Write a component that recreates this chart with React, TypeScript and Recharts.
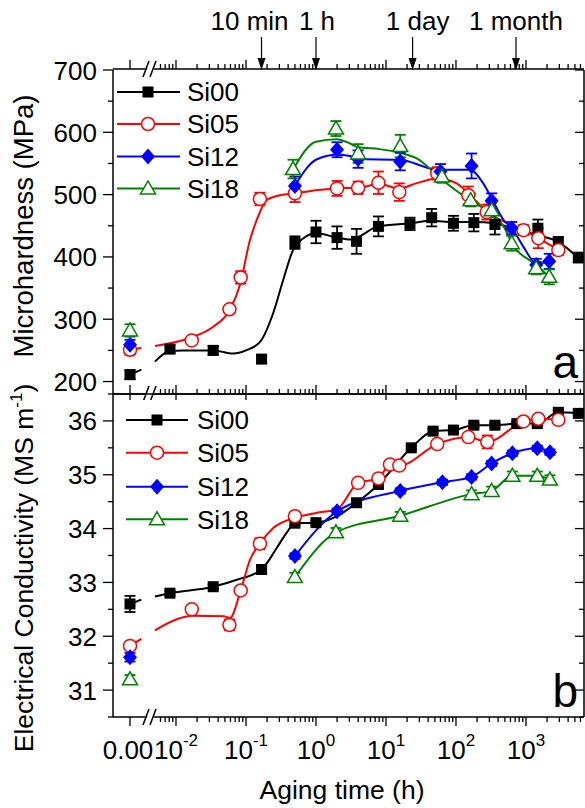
import React from 'react';
import { ComposedChart, Line, Scatter, XAxis, YAxis, ErrorBar, Legend } from 'recharts';

const FONT = '"Liberation Sans", Arial, Helvetica, sans-serif';

// ---------- series meta ----------
const SERIES_NAMES = ['Si00', 'Si05', 'Si12', 'Si18'];
const SERIES_COLORS = ['#000000', '#ff0000', '#0000ff', '#008000'];
const SERIES_MARKERS = ['square', 'circle', 'diamond', 'triangle'];

// ---------- (a) Microhardness (MPa): time (h), value, error ----------
const HV_SI00_T = [0, 0.0082, 0.034, 0.167, 0.5, 1, 2, 3.8, 7.8, 22, 45, 92, 180, 360, 1480, 2900, 5600];
const HV_SI00_V = [211, 252, 250, 236, 423, 440, 431, 425, 449, 453, 463, 454, 455, 452, 446, 424, 399];
const HV_SI00_E = [7, 6, 7, 6, 10, 18, 18, 20, 16, 10, 14, 12, 14, 16, 14, 8, 8];

const HV_SI05_T = [0, 0.0168, 0.058, 0.084, 0.158, 0.5, 2, 4, 7.8, 15.5, 54, 150, 275, 920, 1500, 2900];
const HV_SI05_V = [251, 266, 316, 367, 493, 502, 510, 511, 519, 504, 534, 499, 472, 443, 430, 411];
const HV_SI05_E = [8, 6, 6, 10, 10, 14, 12, 10, 18, 14, 10, 14, 12, 8, 16, 8];

const HV_SI12_T = [0, 0.5, 2, 4, 16, 60, 167, 323, 625, 1400, 2150];
const HV_SI12_V = [259, 514, 572, 557, 553, 537, 546, 490, 446, 387, 393];
const HV_SI12_E = [8, 15, 12, 14, 14, 12, 20, 12, 10, 10, 12];

const HV_SI18_T = [0, 0.47, 1.93, 4, 16, 63, 162, 323, 625, 1400, 2150];
const HV_SI18_V = [282, 541, 606, 566, 578, 529, 491, 475, 422, 382, 368];
const HV_SI18_E = [10, 15, 12, 15, 18, 10, 10, 12, 12, 10, 12];

// fitted guide lines (h, MPa); null = axis break gap
const HV_FIT_SI00 = [[0, 211], [0.0032, 219], [0.0044, null], [0.005, 232], [0.0082, 249], [0.0126, 250], [0.034, 250], [0.066, 245], [0.1, 250], [0.16, 264], [0.245, 310], [0.34, 363], [0.47, 411], [0.66, 430], [1, 438], [2, 431], [3.1, 428], [7.8, 449], [22, 454], [45, 458], [92, 456], [180, 456], [360, 454], [630, 446], [1480, 435], [2900, 424], [5600, 398]];
const HV_FIT_SI05 = [[0, 251], [0.0032, 254], [0.0044, null], [0.005, 257], [0.0168, 271], [0.034, 288], [0.058, 314], [0.082, 355], [0.114, 427], [0.142, 459], [0.197, 491], [0.306, 499], [0.5, 502], [1, 507], [2, 510], [4, 511], [8, 517], [15.5, 510], [27, 518], [54, 526], [102, 518], [150, 502], [275, 473], [920, 443], [1500, 430], [2900, 411]];
const HV_FIT_SI12 = [[0.5, 514], [1, 556], [2, 564], [3.06, 562], [4, 557], [16, 556], [43, 542], [63, 540], [158, 540], [245, 518], [323, 494], [480, 459], [630, 446], [910, 417], [1400, 390], [2100, 392]];
const HV_FIT_SI18 = [[0.47, 540], [1, 585], [2, 589], [3.06, 582], [4, 576], [8.1, 573], [16, 567], [27.5, 558], [63, 524], [158, 491], [323, 469], [480, 449], [630, 422], [1400, 387], [2150, 368]];

// ---------- (b) Electrical conductivity (MS/m) ----------
const EC_SI00_T = [0, 0.0082, 0.034, 0.167, 0.5, 1, 3.8, 7.8, 23, 47, 92, 180, 360, 740, 1450, 2900, 5600];
const EC_SI00_V = [32.6, 32.8, 32.92, 33.24, 34.1, 34.11, 34.48, 34.82, 35.5, 35.81, 35.83, 35.92, 35.92, 35.95, 35.95, 36.16, 36.14];
const EC_SI00_E = [0.15, 0.04, 0.04, 0.06, 0.04, 0.04, 0.04, 0.04, 0.04, 0.04, 0.04, 0.04, 0.04, 0.04, 0.04, 0.04, 0.04];

const EC_SI05_T = [0, 0.0168, 0.058, 0.084, 0.158, 0.5, 4, 7.8, 11.4, 15.5, 54, 150, 280, 920, 1500, 2900];
const EC_SI05_V = [31.82, 32.5, 32.21, 32.85, 33.72, 34.23, 34.85, 34.93, 35.19, 35.17, 35.57, 35.7, 35.61, 35.99, 36.04, 36.02];
const EC_SI05_E = [0.05, 0.06, 0.1, 0.06, 0.1, 0.06, 0.06, 0.06, 0.06, 0.05, 0.06, 0.06, 0.12, 0.06, 0.06, 0.06];

const EC_SI12_T = [0, 0.5, 2, 16, 64, 167, 323, 640, 1450, 2200];
const EC_SI12_V = [31.61, 33.49, 34.32, 34.7, 34.86, 34.96, 35.21, 35.4, 35.49, 35.42];
const EC_SI12_E = [0.08, 0.05, 0.05, 0.05, 0.05, 0.05, 0.05, 0.05, 0.05, 0.05];

const EC_SI18_T = [0, 0.5, 1.93, 16, 167, 323, 640, 1450, 2200];
const EC_SI18_V = [31.2, 33.1, 33.93, 34.24, 34.64, 34.7, 34.98, 34.98, 34.91];
const EC_SI18_E = [0.08, 0.08, 0.08, 0.07, 0.07, 0.08, 0.08, 0.08, 0.08];

const EC_FIT_SI00 = [[0, 32.6], [0.0032, 32.68], [0.0044, null], [0.005, 32.74], [0.0082, 32.8], [0.034, 32.92], [0.074, 33.05], [0.167, 33.24], [0.275, 33.64], [0.38, 33.92], [0.5, 34.1], [1, 34.11], [2, 34.23], [3.8, 34.48], [7.8, 34.82], [23, 35.5], [47, 35.81], [92, 35.83], [180, 35.92], [360, 35.92], [740, 35.95], [1450, 35.95], [2900, 36.16], [5600, 36.14]];
const EC_FIT_SI05 = [[0, 31.82], [0.0032, 31.95], [0.0044, null], [0.005, 32.11], [0.011, 32.33], [0.0168, 32.38], [0.048, 32.37], [0.059, 32.34], [0.084, 32.85], [0.114, 33.42], [0.158, 33.72], [0.245, 34.01], [0.5, 34.2], [1, 34.29], [2, 34.36], [4, 34.85], [7.8, 34.93], [11.4, 35.19], [15.5, 35.17], [54, 35.57], [150, 35.7], [280, 35.61], [920, 35.99], [1500, 36.04], [2900, 36.02]];
const EC_FIT_SI12 = [[0.5, 33.49], [2, 34.32], [16, 34.7], [64, 34.86], [167, 34.96], [323, 35.21], [640, 35.4], [1450, 35.49], [2200, 35.42]];
const EC_FIT_SI18 = [[0.5, 33.1], [1.93, 33.93], [16, 34.24], [167, 34.64], [323, 34.7], [640, 34.98], [1450, 34.98], [2200, 34.91]];

// ---------- annotations on top axis ----------
const ANNOT_LABELS = ['10 min', '1 h', '1 day', '1 month'];
const ANNOT_HOURS = [1 / 6, 1, 24, 720];
const ANNOT_DX = [-12, 1, 5, 0];

// ---------- axis structure (log10 hours; 0 h drawn left of a break) ----------
const ZERO_LX = -2.657;
const BREAK_LX = -2.357;
const X_DOMAIN = [-2.9, 3.829];
const X_DECADES = [-2, -1, 0, 1, 2, 3];
const X_MINORS: number[] = [];
for (let n = -3; n <= 3; n++) {
  for (let k = 2; k <= 9; k++) {
    const v = n + Math.log10(k);
    if (v > -2.27 && v < X_DOMAIN[1]) X_MINORS.push(v);
  }
}
const X_TICKS = [ZERO_LX, BREAK_LX, ...X_DECADES, ...X_MINORS];
const HV_TICKS = [200, 250, 300, 350, 400, 450, 500, 550, 600, 650, 700];
const EC_TICKS = [30.5, 31, 31.5, 32, 32.5, 33, 33.5, 34, 34.5, 35, 35.5, 36, 36.5];

const lxOf = (t: number) => (t === 0 ? ZERO_LX : Math.log10(t));
const pts = (t: number[], v: number[], e: number[]) => t.map((ti, i) => ({ lx: lxOf(ti), v: v[i], e: e[i] }));
const fit = (pairs: any[]) => pairs.map(([t, v]) => ({ lx: lxOf(t), v }));

const HV_POINTS = [pts(HV_SI00_T, HV_SI00_V, HV_SI00_E), pts(HV_SI05_T, HV_SI05_V, HV_SI05_E), pts(HV_SI12_T, HV_SI12_V, HV_SI12_E), pts(HV_SI18_T, HV_SI18_V, HV_SI18_E)];
const HV_FITS = [fit(HV_FIT_SI00), fit(HV_FIT_SI05), fit(HV_FIT_SI12), fit(HV_FIT_SI18)];
const EC_POINTS = [pts(EC_SI00_T, EC_SI00_V, EC_SI00_E), pts(EC_SI05_T, EC_SI05_V, EC_SI05_E), pts(EC_SI12_T, EC_SI12_V, EC_SI12_E), pts(EC_SI18_T, EC_SI18_V, EC_SI18_E)];
const EC_FITS = [fit(EC_FIT_SI00), fit(EC_FIT_SI05), fit(EC_FIT_SI12), fit(EC_FIT_SI18)];

// ---------- drawing helpers ----------
const Marker = ({ kind, cx, cy, color }: any) => {
  if (cx == null || cy == null) return <g />;
  switch (kind) {
    case 'square':
      return <rect x={cx - 5.5} y={cy - 5.5} width={11} height={11} fill={color} />;
    case 'circle':
      return <circle cx={cx} cy={cy} r={6.5} fill="#fff" stroke={color} strokeWidth={1.5} />;
    case 'diamond':
      return <polygon points={`${cx},${cy - 8} ${cx + 7},${cy} ${cx},${cy + 8} ${cx - 7},${cy}`} fill={color} />;
    default:
      return <polygon points={`${cx},${cy - 7.5} ${cx + 7.5},${cy + 5.5} ${cx - 7.5},${cy + 5.5}`} fill="#fff" stroke={color} strokeWidth={1.5} />;
  }
};

const breakMark = (x: number, y: number) => (
  <g>
    <polygon points={`${x - 5},${y + 3} ${x + 2},${y + 3} ${x + 4},${y - 3} ${x - 3},${y - 3}`} fill="#fff" />
    <line x1={x - 8} y1={y + 8} x2={x - 2} y2={y - 8} stroke="#000" strokeWidth={1.5} />
    <line x1={x - 1} y1={y + 8} x2={x + 5} y2={y - 8} stroke="#000" strokeWidth={1.5} />
  </g>
);

const kindOf = (v: number) => {
  if (v === ZERO_LX) return 'zero';
  if (v === BREAK_LX) return 'break';
  if (Number.isInteger(v)) return 'major';
  return 'minor';
};

// mode: 'top' (ticks up, break), 'midA' (majors down, break), 'midB' (ticks up), 'bottom' (ticks down, labels, break)
const makeXTick = (mode: string) => (p: any) => {
  const { x, y, payload } = p;
  const kind = kindOf(payload.value);
  if (kind === 'break') return mode === 'midB' ? <g /> : breakMark(x, y);
  if (mode === 'midA' && kind === 'minor') return <g />;
  const dir = mode === 'top' || mode === 'midB' ? -1 : 1;
  const len = kind === 'minor' ? 5 : 9;
  return (
    <g>
      <line x1={x} y1={y} x2={x} y2={y + dir * len} stroke="#000" strokeWidth={1.3} />
      {mode === 'bottom' && kind === 'zero' && (
        <text x={x - 2} y={y + 42} textAnchor="middle" fontSize={26} fontFamily={FONT} fill="#000">0.00</text>
      )}
      {mode === 'bottom' && kind === 'major' && (
        <text x={x} y={y + 42} textAnchor="middle" fontSize={26} fontFamily={FONT} fill="#000">
          10<tspan dy={-13} fontSize={17}>{String(payload.value)}</tspan>
        </text>
      )}
    </g>
  );
};

const annotTick = (p: any) => {
  const { x, y, index } = p;
  return (
    <g>
      <line x1={x} y1={y - 33} x2={x} y2={y - 10} stroke="#000" strokeWidth={1.2} />
      <polygon points={`${x - 4},${y - 12} ${x + 4},${y - 12} ${x},${y}`} fill="#000" />
      <text x={x + ANNOT_DX[index]} y={y - 40} textAnchor="middle" fontSize={26} fontFamily={FONT} fill="#000">{ANNOT_LABELS[index]}</text>
    </g>
  );
};

const makeYTick = (side: string, isMajor: (v: number) => boolean) => (p: any) => {
  const { x, y, payload } = p;
  const maj = isMajor(payload.value);
  if (side === 'left') {
    return (
      <g>
        <line x1={x} y1={y} x2={x - (maj ? 10 : 5)} y2={y} stroke="#000" strokeWidth={1.3} />
        {maj && (
          <text x={x - 16} y={y + 9.5} textAnchor="end" fontSize={26} fontFamily={FONT} fill="#000">{String(payload.value)}</text>
        )}
      </g>
    );
  }
  return <line x1={x} y1={y} x2={x - (maj ? 9 : 5)} y2={y} stroke="#000" strokeWidth={1.3} />;
};

const makeLegend = (rows: number[], x0: number, x1: number, xm: number, xt: number) => () => (
  <svg width={585} height={300} style={{ position: 'absolute', left: 0, top: 0, overflow: 'visible' }}>
    {SERIES_NAMES.map((n, i) => (
      <g key={n}>
        <line x1={x0} y1={rows[i]} x2={x1} y2={rows[i]} stroke={SERIES_COLORS[i]} strokeWidth={2} />
        <Marker kind={SERIES_MARKERS[i]} cx={xm} cy={rows[i]} color={SERIES_COLORS[i]} />
        <text x={xt} y={rows[i] + 9.3} fontSize={26} fontFamily={FONT} fill="#000">{n}</text>
      </g>
    ))}
  </svg>
);

const AXIS_LINE = { stroke: '#000', strokeWidth: 1.5 };

const Panel = ({ cfg }: any) => (
  <div style={{ position: 'absolute', left: 0, top: cfg.top }}>
    <ComposedChart width={585} height={cfg.height} margin={cfg.margin}>
      <XAxis
        xAxisId="b" type="number" dataKey="lx" domain={X_DOMAIN} allowDataOverflow ticks={X_TICKS} interval={0}
        orientation="bottom" height={1} tickSize={0} tickMargin={0} tickLine={false} axisLine={AXIS_LINE}
        tick={makeXTick(cfg.bottomMode)}
        label={cfg.xTitle ? () => (
          <text x={342} y={cfg.xTitleY} textAnchor="middle" fontSize={26.5} fontFamily={FONT} fill="#000">{cfg.xTitle}</text>
        ) : undefined}
      />
      <XAxis
        xAxisId="t" type="number" dataKey="lx" domain={X_DOMAIN} allowDataOverflow ticks={X_TICKS} interval={0}
        orientation="top" height={1} tickSize={0} tickMargin={0} tickLine={false} axisLine={AXIS_LINE}
        tick={makeXTick(cfg.topMode)}
      />
      {cfg.annotations && (
        <XAxis
          xAxisId="ann" type="number" dataKey="lx" domain={X_DOMAIN} allowDataOverflow ticks={ANNOT_HOURS.map(lxOf)} interval={0}
          orientation="top" height={1} tickSize={0} tickMargin={0} tickLine={false} axisLine={false}
          tick={annotTick}
        />
      )}
      <YAxis
        yAxisId="l" type="number" dataKey="v" domain={cfg.yDomain} allowDataOverflow ticks={cfg.yTicks} interval={0}
        width={1} tickSize={0} tickMargin={0} tickLine={false} axisLine={AXIS_LINE}
        tick={makeYTick('left', cfg.isMajor)}
        label={() => (
          <text x={33} y={cfg.yTitleY} transform={`rotate(-90 33 ${cfg.yTitleY})`} textAnchor="middle" fontSize={cfg.yTitleSize} fontFamily={FONT} fill="#000">
            {cfg.yTitle}
            {cfg.yTitleSup && <tspan dy={-11} fontSize={17}>{cfg.yTitleSup}</tspan>}
            {cfg.yTitleEnd && <tspan dy={11}>{cfg.yTitleEnd}</tspan>}
          </text>
        )}
      />
      <YAxis
        yAxisId="r" orientation="right" type="number" dataKey="v" domain={cfg.yDomain} allowDataOverflow ticks={cfg.yTicks} interval={0}
        width={1} tickSize={0} tickMargin={0} tickLine={false} axisLine={AXIS_LINE}
        tick={makeYTick('right', cfg.isMajor)}
        label={() => (
          <text x={578} y={cfg.letterY} textAnchor="end" fontSize={46} fontFamily={FONT} fill="#000">{cfg.letter}</text>
        )}
      />
      {cfg.fits.map((d: any, i: number) => (
        <Line
          key={'fit' + i} data={d} dataKey="v" xAxisId="b" yAxisId="l" type="monotone"
          stroke={SERIES_COLORS[i]} strokeWidth={2} dot={false} activeDot={false}
          connectNulls={false} isAnimationActive={false} legendType="none"
        />
      ))}
      {cfg.points.map((d: any, i: number) => (
        <Scatter
          key={'pt' + i} name={SERIES_NAMES[i]} data={d} dataKey="v" xAxisId="b" yAxisId="l" isAnimationActive={false}
          fill={SERIES_COLORS[i]}
          shape={(p: any) => <Marker kind={SERIES_MARKERS[i]} cx={p.cx} cy={p.cy} color={SERIES_COLORS[i]} />}
        />
      ))}
      {cfg.points.map((d: any, i: number) => (
        <Scatter
          key={'eb' + i} data={d} dataKey="v" xAxisId="b" yAxisId="l" isAnimationActive={false} legendType="none"
          shape={() => <g />}
        >
          <ErrorBar dataKey="e" direction="y" width={5.5} stroke={SERIES_COLORS[i]} strokeWidth={1.8} />
        </Scatter>
      ))}
      <Legend
        layout="vertical" align="center" verticalAlign="middle"
        wrapperStyle={{ position: 'absolute', left: 0, top: 0, width: 585, height: 300 }}
        content={makeLegend(cfg.legendRows, cfg.legendX0, cfg.legendX1, cfg.legendXM, cfg.legendXT)}
      />
    </ComposedChart>
  </div>
);

const PANEL_A = {
  top: 0, height: 400, margin: { top: 68, right: 0, bottom: 5, left: 112 },
  yDomain: [180, 700], yTicks: HV_TICKS, isMajor: (v: number) => v % 100 === 0,
  yTitle: 'Microhardness (MPa)', yTitleY: 226, yTitleSize: 27.5,
  letter: 'a', letterY: 378,
  topMode: 'top', bottomMode: 'midA', annotations: true,
  fits: HV_FITS, points: HV_POINTS,
  legendRows: [92, 124, 156.5, 188.5], legendX0: 117, legendX1: 180, legendXM: 148, legendXT: 187,
};

const PANEL_B = {
  top: 380, height: 428, margin: { top: 13, right: 0, bottom: 90, left: 112 },
  yDomain: [30.5, 36.5], yTicks: EC_TICKS, isMajor: (v: number) => Number.isInteger(v),
  yTitle: 'Electrical Conductivity (MS m', yTitleSup: '-1', yTitleEnd: ')', yTitleY: 188, yTitleSize: 26.5,
  letter: 'b', letterY: 327,
  topMode: 'midB', bottomMode: 'bottom', annotations: false,
  xTitle: 'Aging time (h)', xTitleY: 419,
  fits: EC_FITS, points: EC_POINTS,
  legendRows: [40, 72.7, 106.7, 139.3], legendX0: 126, legendX1: 188, legendXM: 157, legendXT: 197,
};

export default function App() {
  return (
    <div style={{ position: 'absolute', left: 0, top: 0, width: 585, height: 808, background: '#fff', fontFamily: FONT }}>
      <Panel cfg={PANEL_A} />
      <Panel cfg={PANEL_B} />
    </div>
  );
}
